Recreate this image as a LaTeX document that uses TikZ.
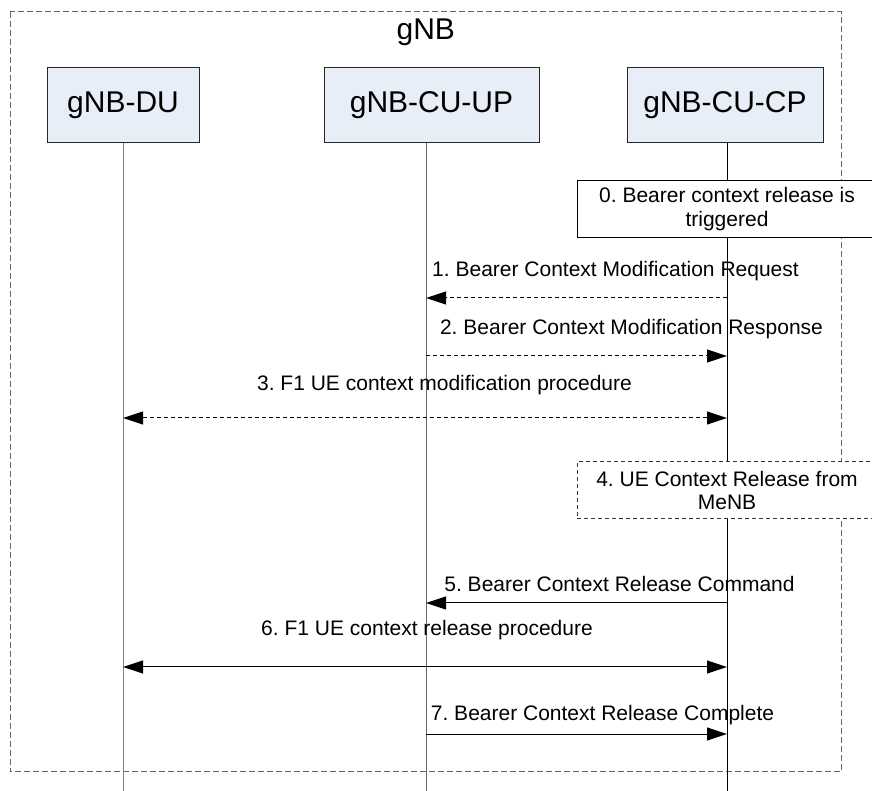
\documentclass[tikz,border=0pt]{standalone}
\usepackage{fontspec}
\setmainfont{Liberation Sans}
\usetikzlibrary{arrows.meta}
\frenchspacing

\definecolor{entfill}{RGB}{232,238,247}
\definecolor{framegray}{RGB}{100,100,100}
\definecolor{linegray}{RGB}{128,128,128}
\newcommand\msgfont{\fontsize{15.75}{17.8}\selectfont}

\tikzset{
  entity/.style={draw=black!85, fill=entfill, line width=0.75pt, minimum height=56.25pt,
    inner sep=0pt, font=\fontsize{22.5}{27}\selectfont},
  note/.style={draw, fill=white, line width=0.75pt, minimum width=225pt, align=center,
    inner sep=0pt, font=\msgfont},
  lbl/.style={inner sep=0pt, anchor=base, font=\msgfont},
  life/.style={line width=0.75pt},
  msg/.style={line width=0.75pt},
  msgdash/.style={dash pattern=on 3pt off 2.25pt},
  frame/.style={draw=framegray, line width=0.75pt, dash pattern=on 4.5pt off 2.25pt},
  >={Triangle[length=15pt,width=9.75pt]}
}

\begin{document}
\begin{tikzpicture}[x=0.75pt,y=-0.75pt]
\useasboundingbox (0,0) rectangle (872,791);

\draw[frame] (10,11.7) rectangle (841,771.7); %%gNB frame
\node[inner sep=0pt, anchor=base, font=\fontsize{22.5}{27}\selectfont] (gnb) at (425.8,40) {gNB};

\node[entity, minimum width=114pt] (du) at (123,105.5) {gNB-DU};
\node[entity, minimum width=161.25pt] (up) at (431.5,105.5) {gNB-CU-UP};
\node[entity, minimum width=147pt] (cp) at (725,105.5) {gNB-CU-CP};

\coordinate (duEnd) at (123,791);
\coordinate (upEnd) at (426,791);
\coordinate (cpEnd) at (727,791);

\draw[life, linegray] (duEnd |- du.south) -- (duEnd);
\draw[life, linegray!80!black] (upEnd |- up.south) -- (upEnd);
\draw[life] (cpEnd |- cp.south) -- (cpEnd);

\node[note, minimum height=42.75pt] (trig) at (727,209) {0. Bearer context release is\\triggered};

\node[lbl] (m1) at (615.5,277) {1. Bearer Context Modification Request};
\draw[msg, msgdash, ->] (cpEnd |- 0,298) -- (upEnd |- 0,298);

\node[lbl] (m2) at (631.5,335) {2. Bearer Context Modification Response};
\draw[msg, msgdash, ->] (upEnd |- 0,356) -- (cpEnd |- 0,356);

\node[lbl] (m3) at (444.5,390.5) {3. F1 UE context modification procedure};
\draw[msg, msgdash, <->] (duEnd |- 0,418) -- (cpEnd |- 0,418);

\node[note, draw=black!80, dash pattern=on 3pt off 2.25pt, minimum height=42.75pt] (rel) at (727,490.5) {4. UE Context Release from\\MeNB};

\node[lbl] (m5) at (619.5,591.5) {5. Bearer Context Release Command};
\draw[msg, ->] (cpEnd |- 0,603) -- (upEnd |- 0,603);

\node[lbl] (m6) at (427,636) {6. F1 UE context release procedure};
\draw[msg, <->] (duEnd |- 0,667) -- (cpEnd |- 0,667);

\node[lbl] (m7) at (602.5,720.5) {7. Bearer Context Release Complete};
\draw[msg, ->] (upEnd |- 0,734) -- (cpEnd |- 0,734);
\end{tikzpicture}
\end{document}
